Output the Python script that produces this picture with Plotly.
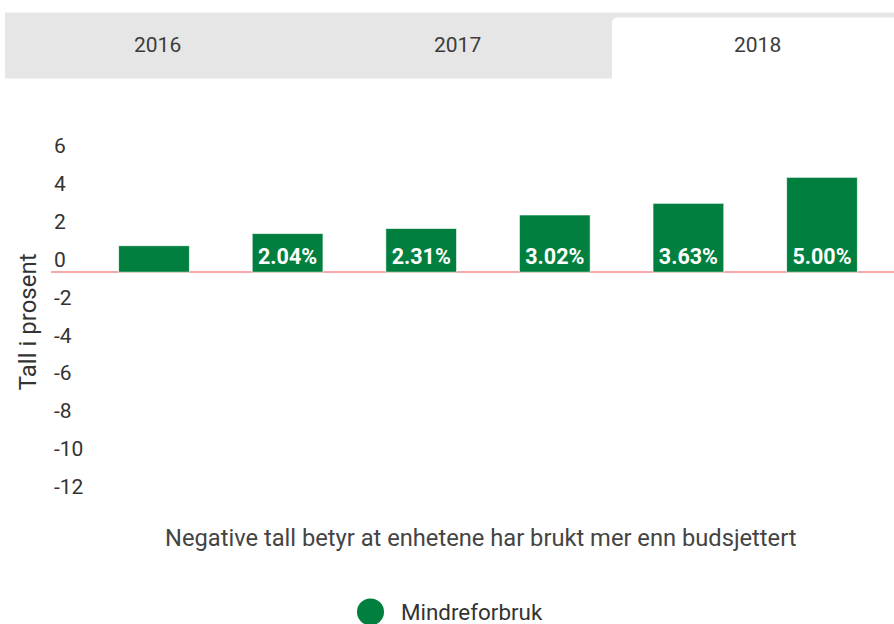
import plotly.graph_objects as go

# ---- data ----
categories = ["1", "2", "3", "4", "5", "6"]
values = [1.4, 2.04, 2.31, 3.02, 3.63, 5.00]
value_labels = ["", "2.04%", "2.31%", "3.02%", "3.63%", "5.00%"]
series_name = "Mindreforbruk"
tab_labels = ["2016", "2017", "2018"]
y_ticks = [6, 4, 2, 0, -2, -4, -6, -8, -10, -12]
y_title = "Tall i prosent"
x_note = "Negative tall betyr at enhetene har brukt mer enn budsjettert"

GREEN = "#007f3e"
W, H = 894, 624
Y_MIN, Y_TOP = -12, 7.6
PX_PER_UNIT = 19
ML, MR, MB = 51, 0, 124
MT = 158 - (Y_TOP - 6) * PX_PER_UNIT
PW, PH = W - ML - MR, H - MT - MB


def px_x(p):
    return (p - ML) / PW


def px_y(p):
    return (H - MB - p) / PH


fig = go.Figure()
fig.add_trace(go.Bar(
    x=categories, y=values, name=series_name,
    marker=dict(color=GREEN, line=dict(color="rgba(255,255,255,0.7)", width=1)),
    width=0.53,
    text=value_labels, textposition="inside", insidetextanchor="start",
    textangle=0, constraintext="none",
    textfont=dict(family="Roboto", size=21.5, color="white", weight="bold"),
    showlegend=False, hoverinfo="skip",
))

shapes = [
    dict(type="rect", xref="paper", yref="paper", x0=px_x(5), x1=px_x(W), y0=px_y(78), y1=px_y(12),
         fillcolor="#e6e6e6", line=dict(width=0), layer="below"),
]
# white selected tab with rounded top-left corner
x0, x1, yt, yb = 612, W + 2, 17, 79
r = 6
path = (f"M {px_x(x0)},{px_y(yb)} L {px_x(x0)},{px_y(yt + r)} "
        f"Q {px_x(x0)},{px_y(yt)} {px_x(x0 + r)},{px_y(yt)} "
        f"L {px_x(x1)},{px_y(yt)} L {px_x(x1)},{px_y(yb)} Z")
shapes.append(dict(type="path", xref="paper", yref="paper", path=path,
                   fillcolor="white", line=dict(width=0), layer="below"))
# legend symbol (circle)
cx, cy, rad = 370.5, 612, 13.5
shapes.append(dict(type="circle", xref="paper", yref="paper",
                   x0=px_x(cx - rad), x1=px_x(cx + rad), y0=px_y(cy + rad), y1=px_y(cy - rad),
                   fillcolor=GREEN, line=dict(width=0)))

annotations = []
for lab, tx in zip(tab_labels, [157, 457, 757]):
    annotations.append(dict(text=lab, xref="paper", yref="paper", x=px_x(tx), y=px_y(45),
                            xanchor="center", yanchor="middle", showarrow=False,
                            font=dict(family="Roboto", size=21, color="#3c3c3c")))
annotations.append(dict(text=x_note, xref="paper", yref="paper", x=px_x(481), y=px_y(538),
                        xanchor="center", yanchor="middle", showarrow=False,
                        font=dict(family="Roboto", size=23.7, color="#444")))
annotations.append(dict(text=series_name, xref="paper", yref="paper", x=px_x(399), y=px_y(612),
                        xanchor="left", yanchor="middle", showarrow=False,
                        font=dict(family="Roboto", size=22.4, color="#333")))
annotations.append(dict(text=y_title, xref="paper", yref="paper", x=px_x(28), y=px_y(322),
                        xanchor="center", yanchor="middle", showarrow=False, textangle=-90,
                        font=dict(family="Roboto", size=24, color="#333")))

fig.update_layout(
    width=W, height=H,
    margin=dict(l=ML, r=MR, t=MT, b=MB, autoexpand=False),
    paper_bgcolor="white", plot_bgcolor="white",
    font=dict(family="Roboto", color="#333"),
    shapes=shapes, annotations=annotations,
    showlegend=False,
    xaxis=dict(type="category", range=[-0.771, 5.539], showticklabels=False, showgrid=False,
               zeroline=False, showline=False, ticks="", fixedrange=True),
    yaxis=dict(range=[Y_MIN, Y_TOP], tickvals=y_ticks, ticktext=[str(v) for v in y_ticks],
               ticklabelposition="inside", ticklabelshift=-13,
               tickfont=dict(family="Roboto", size=21, color="#333"),
               showgrid=False, zeroline=True, zerolinecolor="#f7a8a8", zerolinewidth=2,
               showline=False, ticks="", fixedrange=True),
)

fig.write_html("out.html", config={"displayModeBar": False},
               post_script="document.body.style.margin='0';")
